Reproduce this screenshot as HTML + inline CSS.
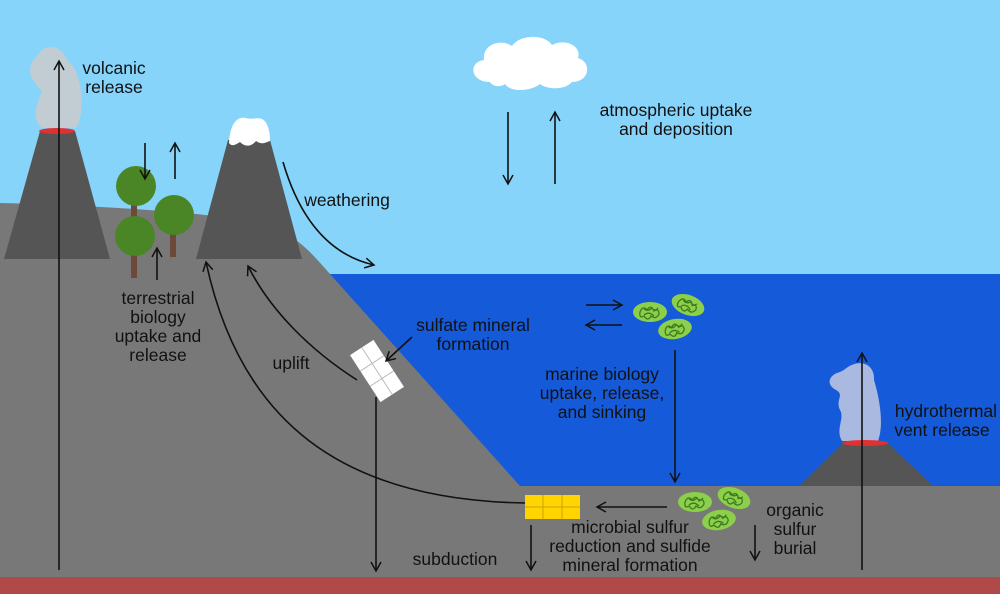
<!DOCTYPE html>
<html><head><meta charset="utf-8"><style>
html,body{margin:0;padding:0;background:#87d4fb;}
svg{display:block}
text{font-family:"Liberation Sans",Arial,sans-serif;font-size:17.5px;fill:#111;text-anchor:middle}
</style></head><body>
<svg width="1000" height="594" viewBox="0 0 1000 594" xmlns="http://www.w3.org/2000/svg">
<defs>
<marker id="a" viewBox="0 0 12 12" refX="10" refY="6" markerWidth="12" markerHeight="12" markerUnits="userSpaceOnUse" orient="auto">
<path d="M1,1 L10,6 L1,11" fill="none" stroke="#111" stroke-width="1.5"/></marker>
<g id="mic">
<ellipse cx="0" cy="0" rx="17" ry="10" fill="#8ccf4a"/>
<path d="M-10,0 q3,-7 7,-2 q4,-6 7,1 q5,-3 5,3 q-3,6 -8,2 q-3,6 -7,0 q-5,3 -4,-4 M-6,-3 q4,3 8,-1 q3,4 6,0 M-6,3 q5,-4 10,1" fill="none" stroke="#3d7a1e" stroke-width="1.3"/>
</g>
</defs>
<rect width="1000" height="594" fill="#87d4fb"/>
<rect x="320" y="274" width="680" height="220" fill="#155ad8"/>
<path d="M0,203 C80,205 170,210 230,218 C290,228 300,240 330,274 L520,486 L1000,486 L1000,594 L0,594 Z" fill="#787878"/>
<rect x="0" y="577" width="1000" height="17" fill="#b04a48"/>
<path d="M38,55 C48,40 64,48 68,62 C82,68 86,115 76,128 L42,128 C30,118 38,100 42,92 C34,82 22,70 38,55 Z" fill="#c2ccd3"/>
<polygon points="40,131 75,131 110,259 4,259" fill="#555"/>
<ellipse cx="57" cy="131" rx="18" ry="3" fill="#e03030"/>
<polygon points="228,140 270,140 302,259 196,259" fill="#555"/>
<path d="M229,143 C230,125 236,116 246,118 C252,120 256,117 262,119 C268,122 270,132 270,141 C264,143 262,145 256,141 C250,148 244,146 240,142 C234,146 231,146 229,143 Z" fill="#fff"/>
<rect x="131" y="200" width="6" height="78" fill="#6b4a3a"/>
<rect x="170" y="220" width="6" height="37" fill="#6b4a3a"/>
<circle cx="136" cy="186" r="20" fill="#4a8526"/>
<circle cx="174" cy="215" r="20" fill="#4a8526"/>
<circle cx="135" cy="236" r="20" fill="#4a8526"/>
<path d="M490,82 C470,82 468,62 484,60 C482,45 500,38 512,46 C520,34 545,34 552,45 C565,38 582,46 578,58 C592,62 590,82 572,82 C565,90 548,90 540,84 C530,92 510,92 505,84 C500,88 492,86 490,82 Z" fill="#fff"/>
<path d="M852,365 C862,360 875,365 874,380 C880,400 884,425 878,441 L842,441 C835,430 845,418 840,410 C835,400 845,395 836,390 C826,385 828,375 840,372 C845,370 848,366 852,365 Z" fill="#a9b9e0"/>
<polygon points="843,443 888,443 933,486 799,486" fill="#555"/>
<ellipse cx="865" cy="443" rx="23" ry="3" fill="#e03030"/>
<g transform="translate(377,371) rotate(-33)">
<rect x="-14" y="-28" width="28" height="56" fill="#fff"/>
<path d="M0,-28 V28 M-14,-9 H14 M-14,9 H14" stroke="#bbb" stroke-width="1"/>
</g>
<rect x="525" y="495" width="55" height="24" fill="#ffd400"/>
<path d="M543,495 V519 M562,495 V519 M525,507 H580" stroke="#c9a400" stroke-width="1"/>
<use href="#mic" x="650" y="312"/>
<use href="#mic" transform="translate(688,305) rotate(20)"/>
<use href="#mic" transform="translate(675,329) rotate(-10)"/>
<use href="#mic" transform="translate(695,502)"/>
<use href="#mic" transform="translate(734,498) rotate(20)"/>
<use href="#mic" transform="translate(719,520) rotate(-10)"/>
<g stroke="#111" stroke-width="1.6" fill="none" marker-end="url(#a)">
<line x1="59" y1="570" x2="59" y2="61"/>
<line x1="145" y1="143" x2="145" y2="179"/>
<line x1="175" y1="179" x2="175" y2="143"/>
<line x1="157" y1="280" x2="157" y2="248"/>
<line x1="508" y1="112" x2="508" y2="184"/>
<line x1="555" y1="184" x2="555" y2="112"/>
<path d="M283,162 C300,220 330,255 374,265"/>
<path d="M525,503 C340,500 240,420 206,262"/>
<path d="M357,380 C310,350 270,310 248,266"/>
<line x1="412" y1="337" x2="386" y2="361"/>
<line x1="376" y1="397" x2="376" y2="571"/>
<line x1="586" y1="305" x2="622" y2="305"/>
<line x1="622" y1="325" x2="586" y2="325"/>
<line x1="675" y1="350" x2="675" y2="482"/>
<line x1="667" y1="507" x2="597" y2="507"/>
<line x1="531" y1="525" x2="531" y2="570"/>
<line x1="755" y1="525" x2="755" y2="560"/>
<line x1="862" y1="570" x2="862" y2="353"/>
</g>
<text x="114" y="74">volcanic</text>
<text x="114" y="93">release</text>
<text x="676" y="116">atmospheric uptake</text>
<text x="676" y="135">and deposition</text>
<text x="347" y="206">weathering</text>
<text x="158" y="304">terrestrial</text>
<text x="158" y="323">biology</text>
<text x="158" y="342">uptake and</text>
<text x="158" y="361">release</text>
<text x="291" y="369">uplift</text>
<text x="473" y="331">sulfate mineral</text>
<text x="473" y="350">formation</text>
<text x="602" y="380">marine biology</text>
<text x="602" y="399">uptake, release,</text>
<text x="602" y="418">and sinking</text>
<text x="946" y="417">hydrothermal</text>
<text x="942" y="436">vent release</text>
<text x="795" y="516">organic</text>
<text x="795" y="535">sulfur</text>
<text x="795" y="554">burial</text>
<text x="630" y="533">microbial sulfur</text>
<text x="630" y="552">reduction and sulfide</text>
<text x="630" y="571">mineral formation</text>
<text x="455" y="565">subduction</text>
</svg>
</body></html>
